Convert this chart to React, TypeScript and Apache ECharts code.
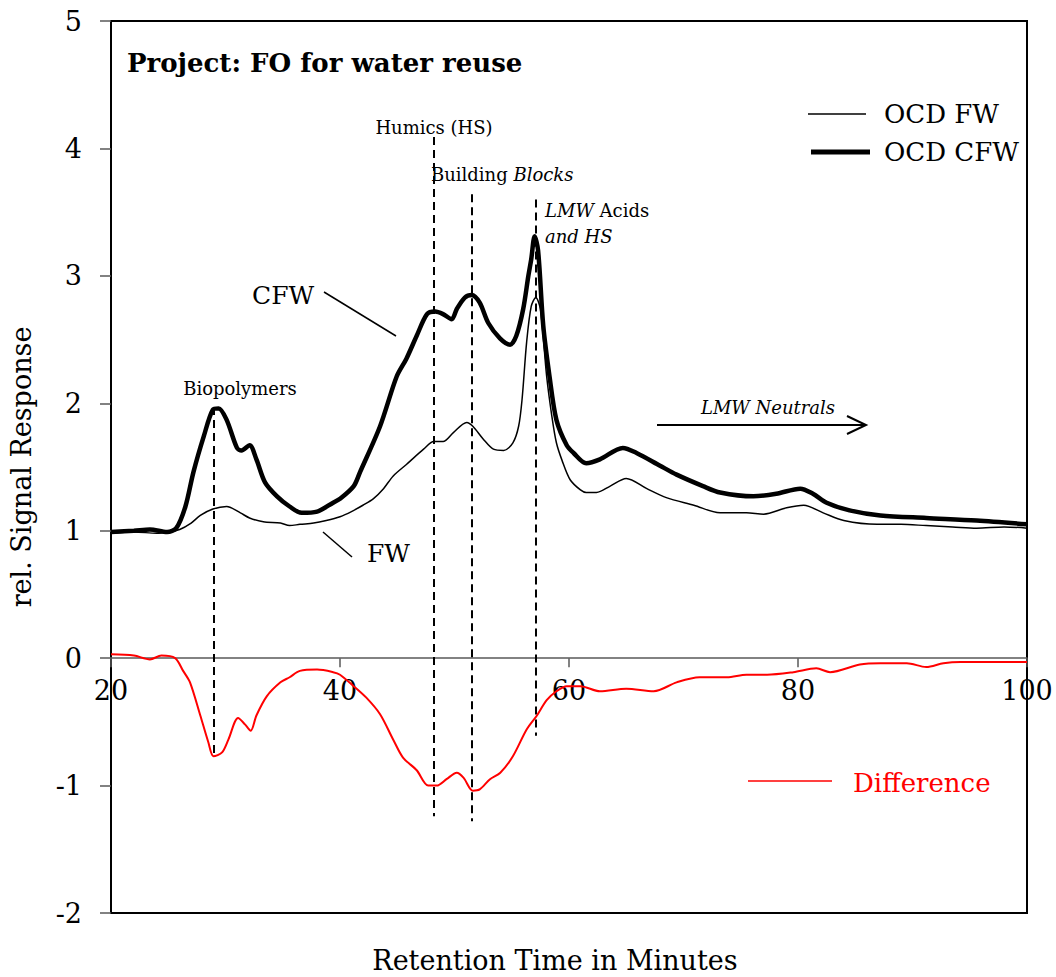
import React, { useEffect, useRef } from "react";
import * as echarts from "echarts";

const FONT = '"DejaVu Serif", "Liberation Serif", serif';

// Axis ticks
const xTicks = [20, 40, 60, 80, 100];
const yTicks = [-2, -1, 0, 1, 2, 3, 4, 5];

// OCD FW (thin line): [minutes, rel. signal]
const fwPoints: number[][] = [
  [20, 0.98], [22, 0.99], [24, 0.98], [25, 0.99], [26, 1.01], [27, 1.06], [27.8, 1.12],
  [28.9, 1.17], [30.1, 1.19], [31.3, 1.14], [32.1, 1.1], [33.3, 1.07], [34.8, 1.06],
  [35.6, 1.04], [36.5, 1.05], [37.7, 1.06], [38.8, 1.08], [40, 1.11], [41, 1.15],
  [42, 1.2], [42.9, 1.25], [43.8, 1.33], [44.65, 1.43], [45.8, 1.52], [47.3, 1.64],
  [48.2, 1.7], [49.0, 1.7], [49.9, 1.77], [51.07, 1.85], [51.6, 1.82], [52.5, 1.72],
  [53.4, 1.64], [54.3, 1.63], [55.1, 1.69], [55.6, 1.82], [55.9, 2.03], [56.3, 2.48],
  [56.7, 2.76], [57.1, 2.83], [57.5, 2.74], [58.05, 2.21], [58.5, 1.9], [58.9, 1.69],
  [59.4, 1.55], [60.1, 1.4], [61.0, 1.32], [61.5, 1.3], [62.4, 1.3], [63.6, 1.35],
  [65.0, 1.41], [66.8, 1.33], [68.5, 1.26], [70.9, 1.2], [73.2, 1.14], [75.5, 1.14],
  [77.0, 1.13], [79.0, 1.18], [80.5, 1.2], [82.2, 1.14], [84.0, 1.08], [86.9, 1.05],
  [89, 1.05], [91.2, 1.04], [93.5, 1.03], [95.6, 1.02], [98, 1.03], [100, 1.02],
];

// OCD CFW (thick line)
const cfwPoints: number[][] = [
  [20, 0.99], [22, 1.0], [23.4, 1.01], [24.9, 0.99], [25.7, 1.02], [26.5, 1.19],
  [27.2, 1.46], [28.1, 1.74], [28.9, 1.95], [29.4, 1.96], [30.1, 1.87], [31.0, 1.65],
  [31.4, 1.63], [32.1, 1.67], [32.7, 1.56], [33.45, 1.38], [34.5, 1.27], [35.6, 1.19],
  [36.65, 1.14], [38.0, 1.15], [39.4, 1.22], [40.0, 1.25], [41.2, 1.35], [41.75, 1.46],
  [43.5, 1.82], [44.95, 2.21], [45.8, 2.35], [46.7, 2.53], [47.6, 2.7], [48.3, 2.72],
  [49.0, 2.7], [49.75, 2.66], [50.2, 2.74], [50.9, 2.83], [51.5, 2.85], [52.2, 2.79],
  [52.95, 2.63], [53.97, 2.51], [54.85, 2.46], [55.4, 2.53], [56.0, 2.74], [56.45, 3.0],
  [56.7, 3.13], [57.0, 3.31], [57.3, 3.2], [57.75, 2.61], [58.3, 2.21], [58.9, 1.87],
  [59.8, 1.67], [60.4, 1.61], [61.5, 1.53], [62.7, 1.56], [64.7, 1.65], [65.9, 1.61],
  [67.95, 1.51], [69.4, 1.44], [71.7, 1.35], [73.2, 1.3], [76.1, 1.27], [78.1, 1.29],
  [80.2, 1.33], [81.3, 1.29], [82.5, 1.22], [84.5, 1.16], [87.2, 1.12], [91.2, 1.1],
  [95.6, 1.08], [100, 1.05],
];

// Difference (red)
const diffPoints: number[][] = [
  [20, 0.03], [22, 0.02], [23.4, -0.01], [24.4, 0.02], [25.6, 0.0], [26.3, -0.1],
  [26.9, -0.19], [27.8, -0.45], [28.5, -0.66], [28.95, -0.77], [29.7, -0.74],
  [30.25, -0.64], [31.1, -0.47], [31.7, -0.52], [32.2, -0.57], [32.7, -0.45],
  [33.6, -0.3], [34.8, -0.19], [35.6, -0.15], [36.5, -0.1], [38.0, -0.09], [39.4, -0.11],
  [40, -0.13], [41.2, -0.22], [42.3, -0.31], [43.5, -0.44], [44.65, -0.64], [45.5, -0.78],
  [46.7, -0.88], [47.7, -1.0], [48.45, -1.0], [49.3, -0.95], [50.2, -0.9], [50.8, -0.94],
  [51.6, -1.04], [52.2, -1.03], [53.1, -0.95], [54.0, -0.9], [55.1, -0.77], [56.3, -0.56],
  [57.2, -0.45], [58.05, -0.33], [58.9, -0.26], [59.8, -0.22], [61, -0.22], [62.7, -0.26],
  [65.0, -0.24], [67.4, -0.26], [69.4, -0.19], [71.4, -0.15], [73.8, -0.15], [75.5, -0.13],
  [77.3, -0.13], [79.6, -0.11], [81.6, -0.08], [82.8, -0.11], [85.4, -0.05], [87.2, -0.04],
  [89.5, -0.04], [91.2, -0.07], [92.7, -0.04], [94.2, -0.03], [97.1, -0.03], [100, -0.03],
];

// Fraction markers: retention time, top and bottom of dashed line
const markerTimes = [29.0, 48.2, 51.5, 57.1];
const markerTops = [1.97, 4.09, 3.64, 3.6];
const markerBottoms = [-0.77, -1.24, -1.28, -0.61];

function txt(text: string, x: number, y: number, o: any = {}) {
  return {
    type: "text",
    x,
    y,
    silent: true,
    style: {
      text,
      fill: o.fill || "#000",
      fontFamily: FONT,
      fontSize: o.size || 18,
      fontWeight: o.weight || "normal",
      fontStyle: o.italic ? "italic" : "normal",
      align: o.align || "left",
      textAlign: o.align || "left",
      verticalAlign: "middle",
      textVerticalAlign: "middle",
      rich: o.rich,
    },
  };
}

function seg(x1: number, y1: number, x2: number, y2: number, color = "#000", width = 1.5) {
  return {
    type: "line",
    silent: true,
    shape: { x1, y1, x2, y2 },
    style: { stroke: color, lineWidth: width },
  };
}

export default function App() {
  const ref = useRef<HTMLDivElement>(null);

  useEffect(() => {
    if (!ref.current) return;
    const chart = echarts.init(ref.current, null, { renderer: "svg" });

    const markLineData = markerTimes.map((t, i) => [
      { coord: [t, markerTops[i]] },
      { coord: [t, markerBottoms[i]] },
    ]);

    const richI = (size: number) => ({
      n: { fontFamily: FONT, fontSize: size, fill: "#000", color: "#000" },
      i: { fontFamily: FONT, fontSize: size, fontStyle: "italic", fill: "#000", color: "#000" },
    });

    chart.setOption({
      animation: false,
      backgroundColor: "#fff",
      grid: {
        left: 111,
        right: 29,
        top: 21,
        bottom: 64,
        outerBoundsMode: "none",
        containLabel: false,
        show: true,
        borderColor: "#000",
        borderWidth: 2,
        backgroundColor: "transparent",
      },
      xAxis: {
        type: "value",
        min: xTicks[0],
        max: xTicks[xTicks.length - 1],
        interval: 20,
        axisLine: { onZero: true, lineStyle: { color: "#595959", width: 1.5 } },
        axisTick: { show: true, length: 9, lineStyle: { color: "#595959", width: 1.5 } },
        axisLabel: { show: false },
        splitLine: { show: false },
      },
      yAxis: {
        type: "value",
        min: yTicks[0],
        max: yTicks[yTicks.length - 1],
        interval: 1,
        name: "rel. Signal Response",
        nameLocation: "middle",
        nameGap: 76,
        nameTextStyle: { color: "#000", fontFamily: FONT, fontSize: 27 },
        axisLine: { show: true, lineStyle: { color: "#000", width: 2 } },
        axisTick: { show: true, length: 11, lineStyle: { color: "#595959", width: 1.5 } },
        axisLabel: { color: "#000", fontFamily: FONT, fontSize: 27, margin: 29 },
        splitLine: { show: false },
      },
      series: [
        {
          name: "OCD FW",
          type: "line",
          data: fwPoints,
          showSymbol: false,
          smooth: 0.3,
          lineStyle: { color: "#000", width: 1.5 },
          itemStyle: { color: "#000" },
          z: 3,
          markLine: {
            silent: true,
            symbol: ["none", "none"],
            label: { show: false },
            lineStyle: { color: "#000", width: 2, type: [8, 5] },
            data: markLineData,
          },
        },
        {
          name: "OCD CFW",
          type: "line",
          data: cfwPoints,
          showSymbol: false,
          smooth: 0.3,
          lineStyle: { color: "#000", width: 4.5 },
          itemStyle: { color: "#000" },
          z: 4,
        },
        {
          name: "Difference",
          type: "line",
          data: diffPoints,
          showSymbol: false,
          smooth: 0.3,
          lineStyle: { color: "#ff0000", width: 2 },
          itemStyle: { color: "#ff0000" },
          z: 5,
        },
      ],
    });

    // x tick labels sit just under the zero line (placed through the chart's own scale)
    const xLabels = xTicks.map((t) => {
      const p = chart.convertToPixel({ xAxisIndex: 0, yAxisIndex: 0 }, [t, 0]) as number[];
      return txt(String(t), p[0], p[1] + 32, { size: 27, align: "center" });
    });

    chart.setOption({
      graphic: [
        ...xLabels,
        txt("Project: FO for water reuse", 127, 63, { size: 26, weight: "bold" }),
        txt("Humics (HS)", 434, 127, { size: 18, align: "center" }),
        txt("{n|Building }{i|Blocks}", 431, 174, { size: 18, rich: richI(18) }),
        txt("{i|LMW}{n| Acids}", 545, 210, { size: 18, rich: richI(18) }),
        txt("and HS", 545, 236, { size: 18, italic: true }),
        txt("Biopolymers", 240, 388, { size: 18, align: "center" }),
        txt("LMW Neutrals", 768, 407, { size: 18, italic: true, align: "center" }),
        seg(657, 425, 866, 425, "#000", 2),
        {
          type: "polyline",
          silent: true,
          shape: { points: [[847, 416], [866, 425], [847, 434]] },
          style: { stroke: "#000", lineWidth: 2, fill: "none" },
        },
        txt("CFW", 252, 295, { size: 25 }),
        seg(324, 292, 396, 336),
        txt("FW", 367, 553, { size: 25 }),
        seg(323, 532, 352, 557),
        seg(808, 114, 866, 114, "#000", 1.5),
        txt("OCD FW", 884, 114, { size: 26 }),
        seg(811, 152, 870, 152, "#000", 5),
        txt("OCD CFW", 884, 152, { size: 26 }),
        seg(748, 781, 832, 781, "#ff0000", 1.5),
        txt("Difference", 853, 783, { size: 26, fill: "#ff0000" }),
        txt("Retention Time in Minutes", 555, 960, { size: 27, align: "center" }),
      ],
    });

    return () => chart.dispose();
  }, []);

  return (
    <div
      ref={ref}
      style={{ position: "fixed", left: 0, top: 0, width: 1056, height: 977, background: "#fff" }}
    />
  );
}
